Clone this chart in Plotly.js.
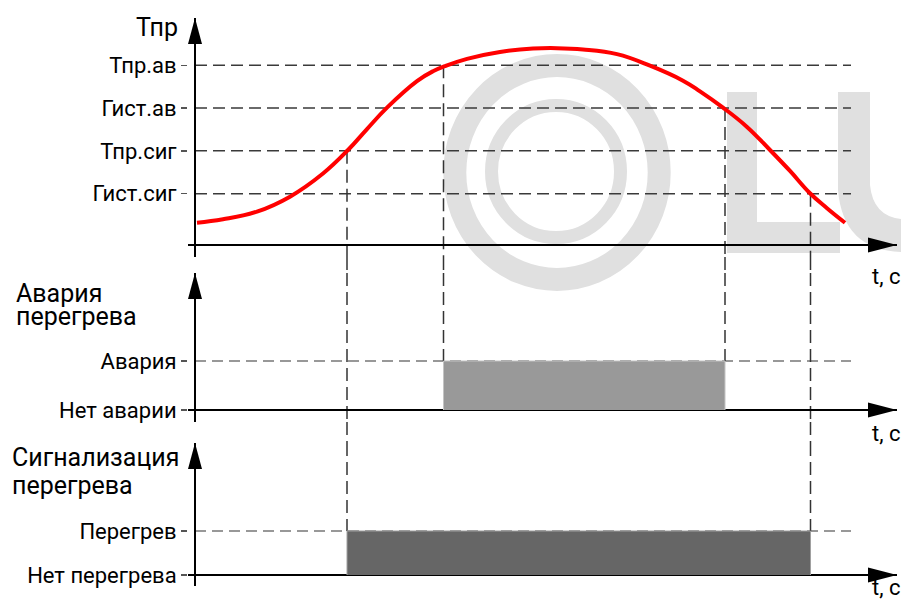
<!DOCTYPE html>
<html><head><meta charset="utf-8">
<script src="https://cdn.plot.ly/plotly-3.0.1.min.js"></script>
<style>html,body{margin:0;padding:0;background:#fff}</style>
</head><body><div id="chart" style="width:901px;height:601px"></div>
<script>
// ---- data ----
const tCurve = [0.2, 2.8, 6.2, 9.5, 12.8, 15.3, 17.2, 19.2, 22.2, 23.8, 25.0, 27.2, 30.5, 33.8, 36.2, 38.8, 42.2, 45.5, 48.8, 50.5, 52.8, 55.2, 57.5, 59.5, 61.5, 63.2, 65.0];
const tempCurve = [5.2, 6.0, 7.8, 11.3, 16.7, 22.2, 27.1, 32.1, 38.3, 40.6, 41.8, 43.5, 45.1, 45.9, 46.0, 45.7, 44.6, 41.9, 38.4, 35.9, 32.1, 27.6, 22.2, 17.3, 12.1, 8.6, 5.2];
const levelVals = [12, 22, 32, 42];
const levelNames = ['Гист.сиг', 'Тпр.сиг', 'Гист.ав', 'Тпр.ав'];
const alarmVals = [0, 1];
const alarmNames = ['Нет аварии', 'Авария'];
const signalVals = [0, 1];
const signalNames = ['Нет перегрева', 'Перегрев'];
const alarmOnOff = [24.85, 53.0];   // t where alarm turns on / off
const signalOnOff = [15.2, 61.55];  // t where signalling turns on / off
const tLevelsEnd = 65.6;
const titles = ['Тпр', 'Авария', 'перегрева', 'Сигнализация', 'перегрева'];
const timeLabel = 't, с';

// ---- layout helpers ----
const W = 901, H = 601;
const PX = x => x / W, PY = y => 1 - y / H;
const xRange = [-0.7, 70.2];
const r1 = [-2.8, 53.04], r2 = [-0.245, 2.796], r3 = [-0.25, 3.0];
const d1 = [PY(257), PY(18)], d2 = [PY(422), PY(273)], d3 = [PY(586), PY(443)];
const FONT = 'Roboto, "Liberation Sans", sans-serif';
const fs = 22;

const traces = [
  {x: tCurve, y: tempCurve, type: 'scatter', mode: 'lines', line: {color: '#ff0000', width: 4, shape: 'spline', smoothing: 1.2}, xaxis: 'x', yaxis: 'y'},
  {x: [alarmOnOff[0], alarmOnOff[0], alarmOnOff[1], alarmOnOff[1]], y: [alarmVals[0], alarmVals[1], alarmVals[1], alarmVals[0]],
   type: 'scatter', mode: 'lines', fill: 'toself', fillcolor: '#999999', line: {color: '#c4c4c4', width: 1}, xaxis: 'x', yaxis: 'y2'},
  {x: [signalOnOff[0], signalOnOff[0], signalOnOff[1], signalOnOff[1]], y: [signalVals[0], signalVals[1], signalVals[1], signalVals[0]],
   type: 'scatter', mode: 'lines', fill: 'toself', fillcolor: '#666666', line: {color: '#a0a0a0', width: 1}, xaxis: 'x', yaxis: 'y3'}
];

const shapes = [];
const WM = '#e0e0e0';
// watermark (decoration)
function ell(cx, cy, rx, ry, w) {
  shapes.push({type: 'circle', xref: 'paper', yref: 'paper', layer: 'below',
    x0: PX(cx - rx), x1: PX(cx + rx), y0: PY(cy + ry), y1: PY(cy - ry), line: {color: WM, width: w}});
}
ell(557, 172.5, 102.2, 107, 23);
ell(556, 171.5, 64.5, 66, 13);
function rectP(xa, ya, xb, yb) {
  shapes.push({type: 'rect', xref: 'paper', yref: 'paper', layer: 'below',
    x0: PX(xa), x1: PX(xb), y0: PY(yb), y1: PY(ya), fillcolor: WM, line: {width: 0}});
}
rectP(727, 92, 757, 253);
rectP(727, 222, 840, 253);
function pp(x, y) { return PX(x) + ',' + PY(y); }
shapes.push({type: 'path', xref: 'paper', yref: 'paper', layer: 'below', fillcolor: WM, line: {width: 0},
  path: 'M' + pp(838, 92) + ' L' + pp(870, 92) + ' L' + pp(870, 185) + ' Q' + pp(873, 216) + ' ' + pp(901, 219) +
        ' L' + pp(901, 252) + ' Q' + pp(843, 250) + ' ' + pp(838, 190) + ' Z'});

// dashed level lines
const dashDark = {color: '#3a3a3a', width: 1.5, dash: '12px,6px'};
const dashGray = {color: '#777', width: 1.5, dash: '11px,6px'};
levelVals.forEach(v => shapes.push({type: 'line', xref: 'x', yref: 'y', layer: 'below', x0: 0, x1: tLevelsEnd, y0: v, y1: v, line: dashDark}));
shapes.push({type: 'line', xref: 'x', yref: 'y2', layer: 'below', x0: 0, x1: tLevelsEnd, y0: alarmVals[1], y1: alarmVals[1], line: dashGray});
shapes.push({type: 'line', xref: 'x', yref: 'y3', layer: 'below', x0: 0, x1: tLevelsEnd, y0: signalVals[1], y1: signalVals[1], line: dashGray});

// vertical dashed event lines (segments per panel + gaps between panels)
const vdash = {color: '#333', width: 1.5, dash: '13px,6px'};
function vseg(t, yref, a, b) { shapes.push({type: 'line', xref: 'x', yref: yref, layer: 'below', x0: t, x1: t, y0: a, y1: b, line: vdash}); }
// alarm: on at Тпр.ав, off at Гист.ав
[[alarmOnOff[0], levelVals[3]], [alarmOnOff[1], levelVals[2]]].forEach(([t, lv]) => {
  vseg(t, 'y', lv, r1[0]); vseg(t, 'paper', d1[0], d2[1]); vseg(t, 'y2', r2[1], alarmVals[1]);
});
// signal: on at Тпр.сиг, off at Гист.сиг
[[signalOnOff[0], levelVals[1]], [signalOnOff[1], levelVals[0]]].forEach(([t, lv]) => {
  vseg(t, 'y', lv, r1[0]); vseg(t, 'paper', d1[0], d2[1]); vseg(t, 'y2', r2[1], r2[0]);
  vseg(t, 'paper', d2[0], d3[1]); vseg(t, 'y3', r3[1], signalVals[1]);
});

// arrows
[['y', r1], ['y2', r2], ['y3', r3]].forEach(([yr, rg]) => {
  shapes.push({type: 'path', xref: 'x', yref: yr, xsizemode: 'pixel', ysizemode: 'pixel', xanchor: 0, yanchor: rg[1],
    path: 'M0,0 L-7,-26 L7,-26 Z', fillcolor: '#000', line: {width: 0}});
  shapes.push({type: 'path', xref: 'x', yref: yr, xsizemode: 'pixel', ysizemode: 'pixel', xanchor: xRange[1], yanchor: 0,
    path: 'M0,0 L-29,7.5 L-29,-7.5 Z', fillcolor: '#000', line: {width: 0}});
});

const tf = {family: FONT, size: fs, color: '#000'};
const tfBig = {family: FONT, size: 25, color: '#000'};
function ann(text, x, y, xanchor, font) {
  return {text: text, xref: 'paper', yref: 'paper', x: PX(x), y: PY(y), xanchor: xanchor, yanchor: 'middle', showarrow: false, font: font || tf, borderpad: 0};
}
const annotations = [
  ann(titles[0], 179, 28, 'right', tfBig),
  ann(titles[1], 15, 293, 'left', tfBig),
  ann(titles[2], 15, 316, 'left', tfBig),
  ann(titles[3], 11, 457, 'left', tfBig),
  ann(titles[4], 11, 486, 'left', tfBig),
  ann(timeLabel, 871, 276, 'left'),
  ann(timeLabel, 871, 433, 'left'),
  ann(timeLabel, 871, 587, 'left')
];

function yax(dom, rg, vals, names) {
  return {domain: dom, range: rg, anchor: 'x', tickmode: 'array', tickvals: vals, ticktext: names,
    ticks: 'outside', ticklen: 6, tickwidth: 1.5, tickcolor: '#555', tickfont: tf,
    showgrid: false, showline: false, zeroline: true, zerolinecolor: '#000', zerolinewidth: 2.5, fixedrange: true};
}
const layout = {
  width: W, height: H, margin: {l: 0, r: 0, t: 0, b: 0},
  paper_bgcolor: '#fff', plot_bgcolor: 'rgba(0,0,0,0)', showlegend: false, hovermode: false,
  xaxis: {domain: [PX(188), PX(897)], range: xRange, showticklabels: false, ticks: '', showgrid: false,
    showline: false, zeroline: true, zerolinecolor: '#000', zerolinewidth: 2.5, fixedrange: true},
  yaxis: yax(d1, r1, levelVals, levelNames),
  yaxis2: yax(d2, r2, alarmVals, alarmNames),
  yaxis3: yax(d3, r3, signalVals, signalNames),
  shapes: shapes, annotations: annotations, font: {family: FONT}
};
Plotly.newPlot('chart', traces, layout, {staticPlot: true, displayModeBar: false});
</script></body></html>
